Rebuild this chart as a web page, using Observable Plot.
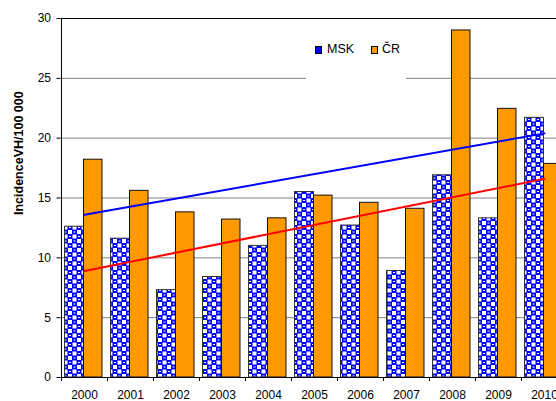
<!DOCTYPE html>
<html><head><meta charset="utf-8">
<script src="https://cdn.jsdelivr.net/npm/d3@7"></script>
<script src="https://cdn.jsdelivr.net/npm/@observablehq/plot@0.6"></script>
<style>
html,body{margin:0;padding:0;overflow:hidden;background:#fff;}
#wrap{position:relative;width:556px;height:401px;overflow:hidden;}
#chart svg{max-width:none !important;}
#legend{position:absolute;left:306px;top:33px;width:100px;height:47px;background:#fff;font:12.5px "Liberation Sans",Arial,sans-serif;color:#000;}
#legend .sw{position:absolute;top:13px;width:5px;height:6px;border:1px solid #000;}
#legend .lb{position:absolute;top:10px;line-height:12.5px;white-space:nowrap;}
</style></head><body>
<div id="wrap"><div id="chart"></div><div id="legend"></div></div>
<script>
const years = ["2000","2001","2002","2003","2004","2005","2006","2007","2008","2009","2010"];
const msk = [12.6, 11.6, 7.3, 8.4, 11.0, 15.5, 12.7, 8.9, 16.9, 13.3, 21.7];
const cr  = [18.2, 15.6, 13.8, 13.2, 13.3, 15.2, 14.6, 14.1, 29.0, 22.45, 17.85];
const seriesNames = ["MSK", "ČR"];
const trendYears = ["2000", "2010"];
const trendRed  = [8.9, 16.6];   // red line
const trendBlue = [13.6, 20.4];  // blue line
const yTicks = [0, 5, 10, 15, 20, 25, 30];
const gridValues = [5, 10, 15, 20, 25];
const yLabel = "IncidenceVH/100 000";

const mskData = years.map((y, i) => ({year: y, value: msk[i]}));
const crData = years.map((y, i) => ({year: y, value: cr[i]}));
const redData = trendYears.map((y, i) => ({year: y, value: trendRed[i]}));
const blueData = trendYears.map((y, i) => ({year: y, value: trendBlue[i]}));

const xRange = [60.5, 567.3];
const step = (xRange[1] - xRange[0]) / years.length;

const plot = Plot.plot({
  width: 568, height: 401,
  marginLeft: 60.5, marginRight: 0.7, marginTop: 18, marginBottom: 24,
  style: {fontFamily: "'Liberation Sans', Arial, sans-serif", fontSize: "12px", color: "#000", background: "#fff", maxWidth: "none", overflow: "visible"},
  x: {domain: years, range: xRange, padding: 0, label: null},
  y: {domain: [0, 30], label: null},
  marks: [
    Plot.ruleY(gridValues, {stroke: "#808080", strokeWidth: 1}),
    Plot.ruleY([30], {stroke: "#000", strokeWidth: 1}),
    Plot.barY(mskData, {x: "year", y: "value", fill: "url(#checker)", stroke: "#333", strokeWidth: 1, insetLeft: 3.5, insetRight: 23.5}),
    Plot.barY(crData, {x: "year", y: "value", fill: "#FF9900", stroke: "#111", strokeWidth: 1, insetLeft: 22.5, insetRight: 5}),
    Plot.line(blueData, {x: "year", y: "value", stroke: "#0000FF", strokeWidth: 2}),
    Plot.line(redData, {x: "year", y: "value", stroke: "#FF0000", strokeWidth: 2}),
    Plot.ruleY([0], {stroke: "#000", strokeWidth: 1}),
    Plot.ruleX([years[0]], {x: d => d, dx: -step / 2, stroke: "#000", strokeWidth: 1}),
    Plot.axisY({ticks: yTicks, tickSize: 4, tickPadding: 6, fontSize: 12, label: null, stroke: "#000"}),
    Plot.axisX({tickSize: 0, tickPadding: 13, fontSize: 12, label: null}),
    Plot.axisX({tickSize: 4, tickFormat: () => "", dx: -step / 2, label: null, stroke: "#000"}),
    Plot.text([yLabel], {frameAnchor: "left", rotate: -90, dx: -42, dy: 17, fontWeight: "bold", fontSize: 12.5, fill: "#000"})
  ]
});

const svgEl = plot.tagName.toLowerCase() === "svg" ? plot : plot.querySelector("svg");
const svg = d3.select(svgEl);
const defs = svg.insert("defs", ":first-child");
const pat = defs.append("pattern").attr("id", "checker").attr("patternUnits", "userSpaceOnUse").attr("width", 9).attr("height", 9);
pat.append("rect").attr("width", 9).attr("height", 9).attr("fill", "#0000FF");
pat.append("rect").attr("x", 0.5).attr("y", 0.5).attr("width", 4).attr("height", 4).attr("fill", "#fff");
pat.append("rect").attr("x", 5).attr("y", 5).attr("width", 4).attr("height", 4).attr("fill", "#fff");
pat.append("rect").attr("x", 1.5).attr("y", 6.5).attr("width", 2).attr("height", 1).attr("fill", "#fff");
pat.append("rect").attr("x", 6).attr("y", 2).attr("width", 2).attr("height", 1).attr("fill", "#fff");
document.getElementById("chart").appendChild(plot);

// legend
const legend = d3.select("#legend");
const legendFills = ["#0000FF", "#FF9900"];
const swLeft = [9, 65], lbLeft = [21, 76];
seriesNames.forEach((name, i) => {
  legend.append("span").attr("class", "sw").style("left", swLeft[i] + "px").style("background", legendFills[i]);
  legend.append("span").attr("class", "lb").style("left", lbLeft[i] + "px").text(name);
});
</script>
</body></html>
